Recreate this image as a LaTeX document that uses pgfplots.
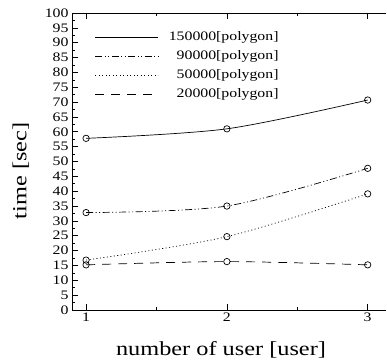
\documentclass[border=0pt]{standalone}
\usepackage{fontspec}
\setmainfont{Liberation Serif}[FakeStretch=1.22]
\usepackage{pgfplots}
\pgfplotsset{compat=1.18}
\begin{document}
\begin{tikzpicture}
\begin{axis}[
  name=ax,
  scale only axis,
  width=314bp, height=297bp,
  xmin=0.9, xmax=3.13,
  ymin=0, ymax=100,
  axis x line*=box,
  axis y line*=left,
  xtick={1,2,3},
  minor xtick={1.5,2.5},
  ytick={0,5,...,100},
  minor ytick={2.5,7.5,...,97.5},
  tick align=inside,
  major tick length=6bp,
  minor tick length=3bp,
  every tick/.style={black, line width=0.6pt},
  axis line style={line width=0.8pt},
  /pgf/number format/assume math mode=true,
  tick label style={font=\fontsize{13}{13}\selectfont},
  xticklabel style={yshift=1bp},
  xlabel={number of user [user]},
  ylabel={time [sec]},
  label style={font=\fontsize{20}{20}\selectfont},
  xlabel style={yshift=-13bp, xshift=-8bp},
  ylabel style={at={(ticklabel cs:0.468,9bp)}},
  legend style={at={(0.073,0.94)}, anchor=north west, draw=none, fill=none,
    font=\fontsize{13}{13}\selectfont, row sep=7bp, inner sep=0pt,
    nodes={inner sep=0pt, text height=9bp, text depth=3bp}},
  legend cell align=right,
  legend image code/.code={\draw[#1] (0bp,0bp) -- (63bp,0bp); \path (73bp,0bp);},
  every axis plot/.append style={black, line width=0.7pt, smooth,
    mark=o, mark size=3.2bp, mark options={solid, fill=white, line width=0.7pt}},
]
\addplot[solid] coordinates {(1,57.8) (2,61.0) (3,70.7)};
\addlegendentry{150000[polygon]}
\addplot[dash pattern=on 7bp off 2.5bp on 1bp off 2.5bp on 1bp off 2.5bp] coordinates {(1,32.8) (2,35.0) (3,47.7)};
\addlegendentry{90000[polygon]}
\addplot[dash pattern=on 1bp off 2.5bp] coordinates {(1,16.8) (2,24.7) (3,39.1)};
\addlegendentry{50000[polygon]}
\addplot[dash pattern=on 9bp off 7bp] coordinates {(1,15.2) (2,16.3) (3,15.2)};
\addlegendentry{20000[polygon]}
\end{axis}
\pgfresetboundingbox
\path ([shift={(-72bp,-53bp)}]ax.south west) rectangle ([shift={(1bp,13bp)}]ax.north east);
\end{tikzpicture}
\end{document}
